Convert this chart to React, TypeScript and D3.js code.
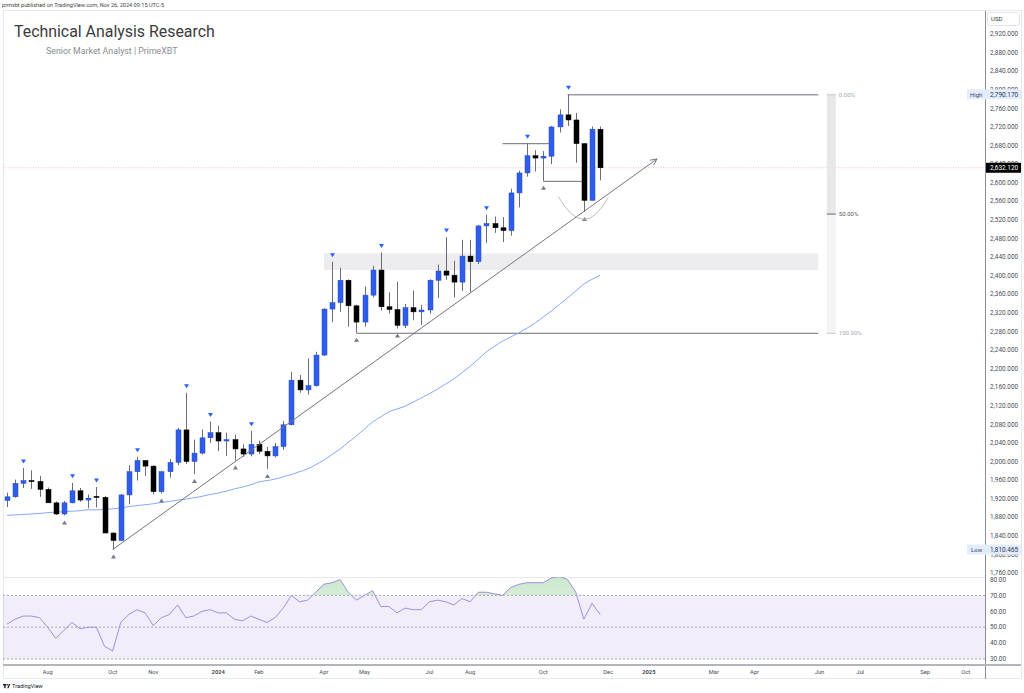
import React from "react";
import * as d3 from "d3";

// weekly XAUUSD-style candles, first bar week of 2023-07-03
const firstWeek = "2023-07-03";
const lastAxisWeek = "2025-10-06";

const opens = [
  1916, 1924, 1953, 1959, 1957, 1940, 1911, 1887, 1911, 1937,
  1917, 1925, 1923, 1846, 1830, 1928, 1978, 2002, 1990, 1935,
  1978, 1998, 2068, 2000, 2018, 2051, 2062, 2044, 2047, 2027,
  2016, 2037, 2022, 2012, 2032, 2079, 2175, 2154, 2163, 2229,
  2328, 2342, 2390, 2335, 2300, 2358, 2412, 2333, 2327, 2293,
  2331, 2322, 2326, 2390, 2410, 2401, 2386, 2442, 2430, 2507,
  2512, 2503, 2497, 2578, 2621, 2658, 2653, 2657, 2720, 2746,
  2735, 2684, 2562, 2715,
];
const highs = [
  1933, 1961, 1986, 1981, 1969, 1944, 1914, 1915, 1954, 1943,
  1929, 1945, 1926, 1848, 1930, 1992, 2010, 2003, 1992, 1980,
  2005, 2072, 2148, 2047, 2069, 2086, 2077, 2062, 2058, 2037,
  2066, 2045, 2031, 2040, 2087, 2193, 2186, 2222, 2236, 2330,
  2430, 2417, 2392, 2337, 2377, 2421, 2450, 2364, 2387, 2339,
  2368, 2337, 2392, 2424, 2483, 2432, 2477, 2477, 2509, 2531,
  2527, 2526, 2587, 2626, 2685, 2670, 2668, 2722, 2758, 2790.17,
  2750, 2685, 2721, 2721,
];
const lows = [
  1902, 1922, 1943, 1941, 1924, 1911, 1885, 1884, 1910, 1913,
  1899, 1901, 1846, 1810.465, 1829, 1908, 1959, 1969, 1929, 1931,
  1965, 1992, 1995, 1973, 2015, 2040, 2022, 2012, 2002, 2010,
  2011, 2016, 1984, 2009, 2025, 2078, 2148, 2144, 2161, 2227,
  2300, 2322, 2290, 2277, 2290, 2353, 2325, 2318, 2286, 2287,
  2304, 2294, 2318, 2352, 2391, 2353, 2367, 2364, 2425, 2470,
  2492, 2472, 2486, 2547, 2613, 2624, 2604, 2640, 2708, 2722,
  2643, 2537, 2562, 2605,
];
const closes = [
  1924, 1953, 1959, 1957, 1940, 1911, 1887, 1911, 1937, 1917,
  1921, 1923, 1846, 1830, 1928, 1978, 2002, 1990, 1935, 1978,
  1998, 2068, 2000, 2018, 2051, 2062, 2044, 2047, 2027, 2016,
  2037, 2022, 2012, 2032, 2079, 2175, 2154, 2163, 2229, 2328,
  2342, 2390, 2335, 2300, 2358, 2412, 2333, 2327, 2293, 2331,
  2322, 2326, 2390, 2410, 2401, 2386, 2442, 2430, 2507, 2512,
  2503, 2497, 2578, 2621, 2658, 2653, 2657, 2720, 2746, 2735,
  2684, 2562, 2715, 2632.12,
];

// 50-week moving average (light blue line)
const movingAvg = [
  1884, 1885, 1886, 1887, 1888, 1890, 1891, 1892, 1893, 1894,
  1896, 1896, 1897, 1898, 1900, 1903, 1905, 1907, 1909, 1912,
  1914, 1917, 1919, 1922, 1925, 1929, 1932, 1936, 1941, 1945,
  1950, 1956, 1959, 1962, 1967, 1972, 1978, 1984, 1993, 2003,
  2015, 2027, 2041, 2055, 2070, 2085, 2096, 2107, 2113, 2119,
  2128, 2137, 2146, 2156, 2167, 2178, 2191, 2205, 2220, 2236,
  2248, 2259, 2268, 2277, 2287, 2298, 2311, 2324, 2338, 2352,
  2367, 2382, 2392, 2401,
];

const rsiValues = [
  52, 55, 57, 57, 56, 50, 43, 48, 53, 49,
  50, 50, 38, 35, 53, 58, 61, 59, 51, 56,
  58, 64, 56, 57, 60, 61, 59, 59, 55, 54,
  57, 55, 53, 56, 62, 70, 66, 67, 72, 77,
  78, 80, 72, 67, 70, 73, 63, 63, 59, 62,
  61, 61, 66, 67, 66, 64, 68, 66, 72, 72,
  71, 70, 75, 77, 78, 78, 78, 81, 82, 80,
  72, 55, 65, 58,
];

const pivotHighBars = [2, 8, 11, 16, 22, 25, 30, 40, 46, 54, 59, 64, 69];
const pivotLowBars = [7, 13, 19, 23, 28, 32, 43, 48, 66, 71];

const priceTicks = [
  2920, 2880, 2840, 2800, 2760, 2720, 2680, 2640, 2600, 2560,
  2520, 2480, 2440, 2400, 2360, 2320, 2280, 2240, 2200, 2160,
  2120, 2080, 2040, 2000, 1960, 1920, 1880, 1840, 1800, 1760,
];
const rsiTicks = [80, 70, 60, 50, 40, 30];
const rsiLevels = [70, 50, 30];

const timeLabels = ["Aug", "Oct", "Nov", "2024", "Feb", "Apr", "May", "Jul", "Aug", "Oct", "Dec", "2025", "Mar", "Apr", "Jun", "Jul", "Sep", "Oct"];
const timeDates = [
  "2023-08-07", "2023-10-02", "2023-11-06", "2024-01-01", "2024-02-05", "2024-04-01",
  "2024-05-06", "2024-07-01", "2024-08-05", "2024-10-07", "2024-12-02", "2025-01-06",
  "2025-03-03", "2025-04-07", "2025-06-02", "2025-07-07", "2025-09-01", "2025-10-06",
];

// drawings
const trendStart = { date: "2023-10-02", price: 1810.465 };
const trendEnd = { date: "2025-01-13", price: 2651 };
const fibHigh = { date: "2024-10-28", price: 2790.17 };
const fibLow = { date: "2024-04-29", price: 2277 };
const drawEnd = "2025-06-01";
const zone = { date: "2024-04-01", top: 2448, bottom: 2412 };
const resistLine = { from: "2024-09-02", to: "2024-10-14", price: 2685 };
const supportLine = { from: "2024-10-07", to: "2024-11-11", price: 2604 };
const arcPoints = [
  { date: "2024-10-20", price: 2570 },
  { date: "2024-11-11", price: 2521 },
  { date: "2024-12-02", price: 2569 },
];
const lastPrice = 2632.12;

const font = "Roboto, 'Noto Sans', sans-serif";

export default function App() {
  const left = 3;
  const axisX = 985;
  const right = 1021;
  const top = 11;
  const priceBottom = 577;
  const rsiBottom = 664;
  const frameBottom = 679;

  const x = d3
    .scaleUtc()
    .domain([new Date(firstWeek), new Date(lastAxisWeek)])
    .range([7, 965.75]);
  const y = d3.scaleLinear().domain([1760, 2920]).range([573, 34]);
  const yr = d3.scaleLinear().domain([30, 80]).range([659, 579.5]);

  const start = new Date(firstWeek);
  const barX = (i: number) => x(d3.utcWeek.offset(start, i));
  const dx = (s: string) => x(new Date(s));
  const fmt = d3.format(",.3f");

  const maLine = d3
    .line<number>()
    .x((_, i) => barX(i))
    .y((d) => y(d))
    .curve(d3.curveMonotoneX);
  const rsiLine = d3
    .line<number>()
    .x((_, i) => barX(i))
    .y((d) => yr(d));
  const rsiArea = d3
    .area<number>()
    .x((_, i) => barX(i))
    .y0(yr(70))
    .y1((d) => yr(d));

  const tx0 = dx(trendStart.date);
  const ty0 = y(trendStart.price);
  const tx1 = dx(trendEnd.date);
  const ty1 = y(trendEnd.price);
  const ang = Math.atan2(ty1 - ty0, tx1 - tx0);
  const ah = 7;
  const a1 = [tx1 - ah * Math.cos(ang - 0.45), ty1 - ah * Math.sin(ang - 0.45)];
  const a2 = [tx1 - ah * Math.cos(ang + 0.45), ty1 - ah * Math.sin(ang + 0.45)];

  const arc = arcPoints.map((p) => [dx(p.date), y(p.price)]);
  const ctrlY = 2 * arc[1][1] - (arc[0][1] + arc[2][1]) / 2;
  const ctrlX = 2 * arc[1][0] - (arc[0][0] + arc[2][0]) / 2;

  const endX = dx(drawEnd);
  const fibMid = (fibHigh.price + fibLow.price) / 2;
  const bandX = endX + 8.5;
  const bandW = 9;

  const bw = 5;

  return (
    <svg
      width={1024}
      height={693}
      style={{ position: "absolute", left: 0, top: 0, background: "#fff" }}
      fontFamily={font}
    >
      <defs>
        <clipPath id="pricePane">
          <rect x={left} y={top} width={axisX - left} height={priceBottom - top} />
        </clipPath>
        <clipPath id="rsiPane">
          <rect x={left} y={priceBottom} width={axisX - left} height={rsiBottom - priceBottom} />
        </clipPath>
        <clipPath id="overbought">
          <rect x={left} y={priceBottom} width={axisX - left} height={yr(70) - priceBottom} />
        </clipPath>
        <linearGradient id="obGrad" x1="0" y1="0" x2="0" y2="1">
          <stop offset="0%" stopColor="#4caf50" stopOpacity={0.3} />
          <stop offset="100%" stopColor="#4caf50" stopOpacity={0.03} />
        </linearGradient>
      </defs>

      {/* header */}
      <text x={2} y={7} fontSize={5.6} fill="#444">
        prmxbt published on TradingView.com, Nov 26, 2024 09:15 UTC-5
      </text>

      {/* frame */}
      <rect x={left + 0.5} y={top - 0.5} width={right - left} height={frameBottom - top} fill="none" stroke="#e6e8ee" />

      <text x={14} y={37} fontSize={15.9} fill="#3c3c40">
        Technical Analysis Research
      </text>
      <text x={46} y={54} fontSize={8.8} fill="#8a8c93">
        Senior Market Analyst | PrimeXBT
      </text>

      {/* price pane */}
      <g clipPath="url(#pricePane)">
        <rect
          x={dx(zone.date)}
          y={y(zone.top)}
          width={endX - dx(zone.date)}
          height={y(zone.bottom) - y(zone.top)}
          fill="#ededf0"
        />
        <line x1={left} x2={axisX} y1={y(lastPrice)} y2={y(lastPrice)} stroke="#f7a9af" strokeWidth={0.8} strokeDasharray="1 1.5" />

        {/* fib lines */}
        <line x1={dx(fibHigh.date)} x2={endX} y1={y(fibHigh.price) + 0.5} y2={y(fibHigh.price) + 0.5} stroke="#6a6d78" />
        <line x1={dx(fibLow.date)} x2={endX} y1={y(fibLow.price) + 0.5} y2={y(fibLow.price) + 0.5} stroke="#6a6d78" />
        <rect x={bandX} y={y(fibHigh.price)} width={bandW} height={y(fibMid) - y(fibHigh.price)} fill="#e8e8eb" />
        <rect x={bandX} y={y(fibMid)} width={bandW} height={y(fibLow.price) - y(fibMid)} fill="#f4f4f6" />
        <line x1={bandX} x2={bandX + bandW} y1={y(fibHigh.price) + 0.5} y2={y(fibHigh.price) + 0.5} stroke="#c4c6cc" />
        <line x1={bandX} x2={bandX + bandW} y1={y(fibMid) + 0.5} y2={y(fibMid) + 0.5} stroke="#5d606b" />
        <line x1={bandX} x2={bandX + bandW} y1={y(fibLow.price) + 0.5} y2={y(fibLow.price) + 0.5} stroke="#c4c6cc" />
        <text x={bandX + bandW + 3} y={y(fibHigh.price) + 2.2} fontSize={6} fill="#a3a6af">0.00%</text>
        <text x={bandX + bandW + 3} y={y(fibMid) + 2.2} fontSize={6} fill="#555862">50.00%</text>
        <text x={bandX + bandW + 3} y={y(fibLow.price) + 2.2} fontSize={6} fill="#a3a6af">100.00%</text>

        <line x1={dx(resistLine.from)} x2={dx(resistLine.to)} y1={y(resistLine.price) + 0.5} y2={y(resistLine.price) + 0.5} stroke="#6a6d78" />
        <line x1={dx(supportLine.from)} x2={dx(supportLine.to)} y1={y(supportLine.price) + 0.5} y2={y(supportLine.price) + 0.5} stroke="#6a6d78" />

        <path d={maLine(movingAvg) || ""} fill="none" stroke="#86a8fb" strokeWidth={1} />

        {/* candles */}
        {opens.map((o, i) => {
          const c = closes[i];
          const cx = Math.round(barX(i)) + 0.5;
          const up = c >= o;
          const yt = y(Math.max(o, c));
          const yb = y(Math.min(o, c));
          return (
            <g key={i}>
              <line x1={cx} x2={cx} y1={y(highs[i])} y2={y(lows[i])} stroke="#6a6d78" strokeWidth={1} />
              <rect
                x={cx - bw / 2}
                y={yt}
                width={bw}
                height={Math.max(1.2, yb - yt)}
                fill={up ? "#2f5ceb" : "#000"}
                stroke={up ? "#2449c8" : "#000"}
                strokeWidth={0.5}
              />
            </g>
          );
        })}

        {pivotHighBars.map((i) => {
          const cx = Math.round(barX(i)) + 0.5;
          const yy = y(highs[i]) - 6.5;
          return <path key={"h" + i} d={`M${cx - 2.5},${yy - 2} L${cx + 2.5},${yy - 2} L${cx},${yy + 2} Z`} fill="#2962ff" />;
        })}
        {pivotLowBars.map((i) => {
          const cx = Math.round(barX(i)) + 0.5;
          const yy = y(lows[i]) + 7;
          return <path key={"l" + i} d={`M${cx - 2.5},${yy + 2} L${cx + 2.5},${yy + 2} L${cx},${yy - 2} Z`} fill="#787b86" />;
        })}

        <line x1={tx0} y1={ty0} x2={tx1} y2={ty1} stroke="#72757f" strokeWidth={1} />
        <path d={`M${a1[0]},${a1[1]} L${tx1},${ty1} L${a2[0]},${a2[1]}`} fill="none" stroke="#72757f" />
        <path
          d={`M${arc[0][0]},${arc[0][1]} Q${ctrlX},${ctrlY} ${arc[2][0]},${arc[2][1]}`}
          fill="none"
          stroke="#b2b5be"
          strokeWidth={0.9}
        />
      </g>

      {/* rsi pane */}
      <line x1={left} x2={axisX} y1={priceBottom + 0.5} y2={priceBottom + 0.5} stroke="#e6e8ee" />
      <g clipPath="url(#rsiPane)">
        <rect x={left} y={yr(70)} width={axisX - left} height={yr(30) - yr(70)} fill="#7e57c2" fillOpacity={0.1} />
        {rsiLevels.map((v) => (
          <line key={v} x1={left} x2={axisX} y1={yr(v)} y2={yr(v)} stroke="#9598a1" strokeDasharray="2 2" strokeWidth={0.8} />
        ))}
        <path d={rsiArea(rsiValues) || ""} fill="url(#obGrad)" clipPath="url(#overbought)" />
        <path d={rsiLine(rsiValues) || ""} fill="none" stroke="#a08ee0" strokeWidth={1} />
      </g>

      {/* right axis */}
      <line x1={axisX + 0.5} x2={axisX + 0.5} y1={top} y2={frameBottom} stroke="#8a8d96" />
      <rect x={987.5} y={12.5} width={32} height={13} rx={2} fill="#fff" stroke="#e0e3eb" />
      <text x={991} y={21.2} fontSize={6} fill="#333">USD</text>
      {priceTicks.map((p) => (
        <text key={p} x={990} y={y(p) + 2.2} fontSize={6.4} fill="#4a4d57">
          {fmt(p)}
        </text>
      ))}
      {rsiTicks.map((v) => (
        <text key={v} x={990} y={yr(v) + 2.2} fontSize={6.4} fill="#4a4d57">
          {v.toFixed(2)}
        </text>
      ))}

      {/* high / low / last labels */}
      <rect x={967} y={y(fibHigh.price) - 5} width={right - 967} height={10} fill="#e3ecfc" />
      <text x={970} y={y(fibHigh.price) + 2.2} fontSize={6} fill="#3d4a66">High</text>
      <text x={990} y={y(fibHigh.price) + 2.2} fontSize={6.4} fill="#2a3550">{fmt(fibHigh.price)}</text>
      <rect x={967} y={y(trendStart.price) - 5} width={right - 967} height={10} fill="#e3ecfc" />
      <text x={971} y={y(trendStart.price) + 2.2} fontSize={6} fill="#3d4a66">Low</text>
      <text x={990} y={y(trendStart.price) + 2.2} fontSize={6.4} fill="#2a3550">{fmt(trendStart.price)}</text>
      <rect x={986} y={y(lastPrice) - 5} width={right - 986} height={10} fill="#000" />
      <text x={990} y={y(lastPrice) + 2.2} fontSize={6.4} fill="#fff">{fmt(lastPrice)}</text>

      {/* time axis */}
      <line x1={left} x2={right} y1={rsiBottom + 1} y2={rsiBottom + 1} stroke="#b2b5be" strokeWidth={2} />
      {timeLabels.map((t, i) => (
        <text
          key={i}
          x={dx(timeDates[i])}
          y={674}
          fontSize={5.8}
          textAnchor="middle"
          fill="#4a4d57"
          fontWeight={t.length === 4 ? 700 : 400}
        >
          {t}
        </text>
      ))}

      {/* tradingview mark */}
      <g fill="#131722">
        <rect x={3} y={684} width={3.2} height={1.4} />
        <rect x={4.2} y={684} width={1.4} height={4.2} />
        <circle cx={7.3} cy={684.8} r={0.8} />
        <path d="M7.2,688.2 L8.9,684 L10.2,684 L8.5,688.2 Z" />
      </g>
      <text x={12} y={688.2} fontSize={5.6} fill="#131722">TradingView</text>
    </svg>
  );
}
